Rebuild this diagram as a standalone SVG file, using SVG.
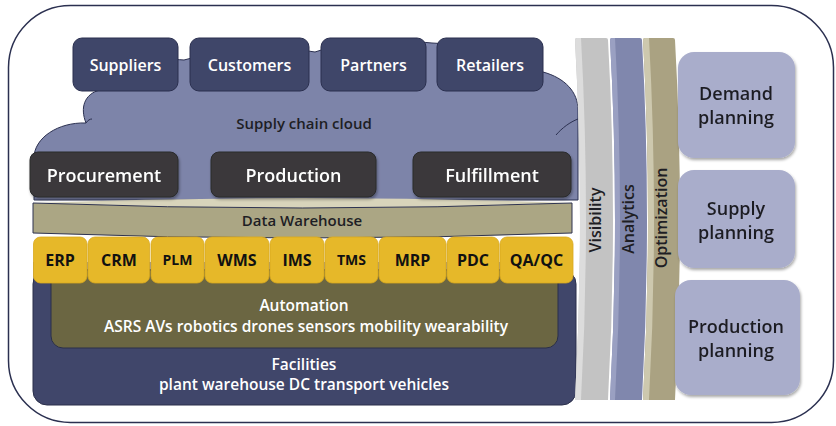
<svg xmlns="http://www.w3.org/2000/svg" width="836" height="426" viewBox="0 0 836 426">
<defs>
<filter id="sh" x="-10%" y="-10%" width="125%" height="130%">
<feGaussianBlur in="SourceAlpha" stdDeviation="1.5"/>
<feOffset dx="1" dy="2" result="b"/>
<feComponentTransfer><feFuncA type="linear" slope="0.35"/></feComponentTransfer>
<feMerge><feMergeNode/><feMergeNode in="SourceGraphic"/></feMerge>
</filter>
</defs>
<style>
text{font-family:"Open Sans","Liberation Sans",sans-serif;font-weight:600;text-anchor:middle}
.w{fill:#ffffff}
.d{fill:#1e1e24}
.navy{fill:#3f4669;stroke:#2a2f4f;stroke-width:1}
.dark{fill:#3a393b;stroke:#2a2a2c;stroke-width:1}
.tile{fill:#e6b829;stroke:#d8a81e;stroke-width:0.8}
.tt{font-weight:700;fill:#111}
.plan{fill:#a9adcb}
</style>
<rect x="8.5" y="5.5" width="825" height="417" rx="62" fill="#ffffff" stroke="#2b3050" stroke-width="1.5"/>

<g id="cloud">
<path d="M34,200 L34,158 C34,138 58,122 86,123 C80,108 84,94 100,90 L100,75 C130,62 160,58 184,60 C220,50 280,46 315,52 C350,40 400,40 432,43 C480,45 520,60 543,72 C565,78 578,92 578,110 L578,200 Z" fill="#7d84a9" stroke="#2b3050" stroke-width="1"/>
<path d="M86,123 C88,120 90,119 92,119" fill="none" stroke="#2b3050" stroke-width="1"/>
<path d="M556,135 C562,128 570,122 578,119" fill="none" stroke="#2b3050" stroke-width="1"/>
<text x="304" y="129" font-size="15" class="d">Supply chain cloud</text>
</g>

<g id="data-warehouse">
<path d="M33,203 Q302,193 572,203 Q302,213 33,203 Z" fill="#d8d4bb"/>
<path d="M33,203 Q302,213 572,203 L572,233 Q302,243 33,233 Z" fill="#aba684" stroke="#2e3350" stroke-width="1"/>
<text x="302" y="226" font-size="15" class="d">Data Warehouse</text>
</g>

<g id="suppliers"><rect x="73" y="38" width="105" height="53" rx="9" class="navy"/><text x="125.5" y="71" font-size="16" class="w">Suppliers</text></g>
<g id="customers"><rect x="190" y="38" width="119" height="53" rx="9" class="navy"/><text x="249.5" y="71" font-size="16" class="w">Customers</text></g>
<g id="partners"><rect x="321" y="38" width="105" height="53" rx="9" class="navy"/><text x="373.5" y="71" font-size="16" class="w">Partners</text></g>
<g id="retailers"><rect x="437" y="38" width="106" height="53" rx="9" class="navy"/><text x="490" y="71" font-size="16" class="w">Retailers</text></g>

<g id="procurement" filter="url(#sh)"><rect x="30" y="152" width="148" height="45" rx="8" class="dark"/><text x="104" y="182" font-size="18" class="w">Procurement</text></g>
<g id="production" filter="url(#sh)"><rect x="211" y="152" width="165" height="45" rx="8" class="dark"/><text x="293.5" y="182" font-size="18" class="w">Production</text></g>
<g id="fulfillment" filter="url(#sh)"><rect x="413" y="152" width="158" height="45" rx="8" class="dark"/><text x="492" y="182" font-size="18" class="w">Fulfillment</text></g>

<g id="facilities">
<rect x="33" y="262" width="540" height="24" fill="#8c92b3"/>
<rect x="33" y="270" width="543" height="135" rx="14" fill="#40466a" stroke="#2a2f4a" stroke-width="1"/>
<text x="304" y="370" font-size="15.5" class="w">Facilities</text>
<text x="304" y="390" font-size="15.5" class="w">plant warehouse DC transport vehicles</text>
</g>
<g id="automation">
<rect x="51" y="270" width="507" height="78" rx="12" fill="#6b6642" stroke="#2a2f4a" stroke-width="1"/>
<text x="304" y="311" font-size="15.5" class="w">Automation</text>
<text x="306" y="332" font-size="15.5" class="w">ASRS AVs robotics drones sensors mobility wearability</text>
</g>

<g id="erp"><rect x="33.5" y="237" width="53.5" height="46" rx="7" class="tile"/><text x="60" y="266" font-size="16" class="tt">ERP</text></g>
<g id="crm"><rect x="88" y="237" width="61.5" height="46" rx="7" class="tile"/><text x="119" y="266" font-size="16" class="tt">CRM</text></g>
<g id="plm"><rect x="151" y="237" width="53" height="46" rx="7" class="tile"/><text x="177.5" y="265" font-size="14" class="tt">PLM</text></g>
<g id="wms"><rect x="205" y="237" width="64" height="46" rx="7" class="tile"/><text x="237" y="266" font-size="16" class="tt">WMS</text></g>
<g id="ims"><rect x="270" y="237" width="54" height="46" rx="7" class="tile"/><text x="297" y="266" font-size="16" class="tt">IMS</text></g>
<g id="tms"><rect x="325" y="237" width="53" height="46" rx="7" class="tile"/><text x="351.5" y="265" font-size="14" class="tt">TMS</text></g>
<g id="mrp"><rect x="379" y="237" width="67" height="46" rx="7" class="tile"/><text x="412.5" y="266" font-size="16" class="tt">MRP</text></g>
<g id="pdc"><rect x="447" y="237" width="52" height="46" rx="7" class="tile"/><text x="473" y="266" font-size="16" class="tt">PDC</text></g>
<g id="qaqc"><rect x="500" y="237" width="73" height="46" rx="7" class="tile"/><text x="536.5" y="266" font-size="16" class="tt">QA/QC</text></g>

<g id="visibility">
<path d="M575,40 Q575,38 577,38 L606,38 Q608,38 608,40 Q618,219 608,400 L575,400 Q585,219 575,40 Z" fill="#c3c3c3"/>
<path d="M575,40 Q575,38 577,38 L581,38 Q591,219 581,400 L575,400 Q585,219 575,40 Z" fill="#dcdcdc"/>
<text transform="translate(601,220) rotate(-90)" font-size="16" class="d">Visibility</text>
</g>
<g id="analytics">
<path d="M610,40 Q610,38 612,38 L640,38 Q642,38 642,40 Q652,219 642,400 L610,400 Q620,219 610,40 Z" fill="#8087ad"/>
<path d="M610,40 Q610,38 612,38 L615,38 Q625,219 615,400 L610,400 Q620,219 610,40 Z" fill="#9aa0c2"/>
<text transform="translate(634,219) rotate(-90)" font-size="16" class="d">Analytics</text>
</g>
<g id="optimization">
<path d="M643,40 Q643,38 645,38 L673,38 Q675,38 675,40 Q685,219 675,400 L643,400 Q653,219 643,40 Z" fill="#aaa282"/>
<path d="M643,40 Q643,38 645,38 L649,38 Q659,219 649,400 L643,400 Q653,219 643,40 Z" fill="#cdc8ae"/>
<text transform="translate(667,218) rotate(-90)" font-size="16" class="d">Optimization</text>
</g>

<g id="demand-planning" filter="url(#sh)"><rect x="678" y="52" width="117" height="106" rx="16" class="plan"/><text x="736" y="100" font-size="18" class="d">Demand</text><text x="736" y="124" font-size="18" class="d">planning</text></g>
<g id="supply-planning" filter="url(#sh)"><rect x="678" y="170" width="117" height="98" rx="16" class="plan"/><text x="736" y="215" font-size="18" class="d">Supply</text><text x="736" y="239" font-size="18" class="d">planning</text></g>
<g id="production-planning" filter="url(#sh)"><rect x="675" y="280" width="125" height="115" rx="16" class="plan"/><text x="736" y="333" font-size="18" class="d">Production</text><text x="736" y="357" font-size="18" class="d">planning</text></g>
</svg>
